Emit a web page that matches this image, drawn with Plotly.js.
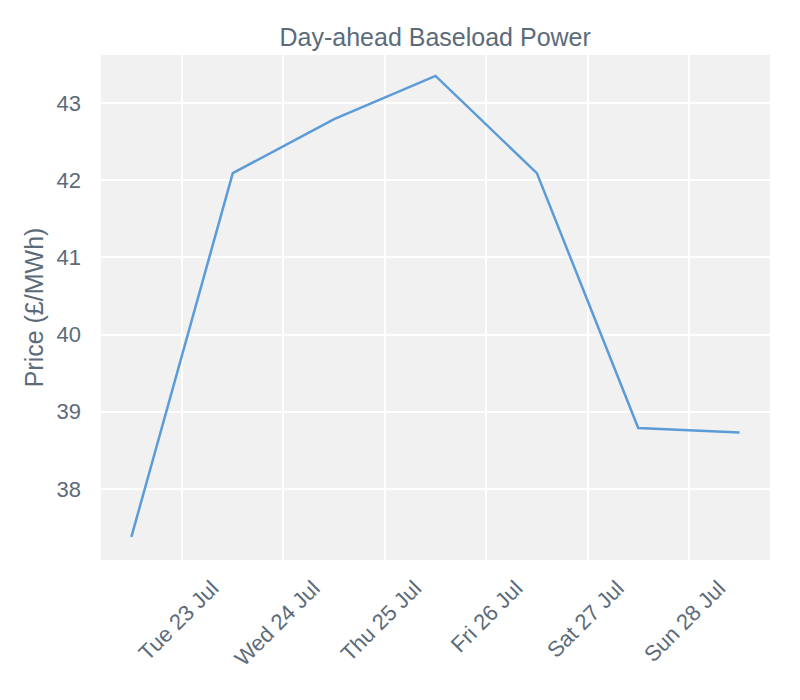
<!DOCTYPE html>
<html>
<head>
<meta charset="utf-8">
<script src="https://cdn.plot.ly/plotly-3.0.1.min.js"></script>
<style>html,body{margin:0;padding:0;background:#fff;}#chart{width:800px;height:700px;}</style>
</head>
<body>
<div id="chart"></div>
<script>
const dates = ['2024-07-22 12:00','2024-07-23 12:00','2024-07-24 12:00','2024-07-25 12:00','2024-07-26 12:00','2024-07-27 12:00','2024-07-28 12:00'];
const prices = [37.38, 42.09, 42.79, 43.35, 42.09, 38.79, 38.73];
const tickDates = ['2024-07-23','2024-07-24','2024-07-25','2024-07-26','2024-07-27','2024-07-28'];
const tickLabels = ['Tue 23 Jul','Wed 24 Jul','Thu 25 Jul','Fri 26 Jul','Sat 27 Jul','Sun 28 Jul'];
const textColor = '#5c6b79';
Plotly.newPlot('chart', [{
  x: dates, y: prices, type: 'scatter', mode: 'lines',
  line: {color: '#5b9bd8', width: 2.5}
}], {
  width: 800, height: 700,
  margin: {l: 101, r: 30, t: 55, b: 140},
  paper_bgcolor: '#ffffff', plot_bgcolor: '#f1f1f1',
  font: {family: 'Liberation Sans, Arial, sans-serif', color: textColor, size: 22},
  title: {text: 'Day-ahead Baseload Power', font: {size: 25, color: textColor}, x: 0.544, xanchor: 'center', y: 1 - 37/700, yanchor: 'middle', yref: 'container'},
  showlegend: false,
  xaxis: {
    type: 'date', range: ['2024-07-22 04:48','2024-07-28 19:12'],
    tickvals: tickDates, ticktext: tickLabels, tickangle: -45,
    showgrid: true, gridcolor: '#ffffff', gridwidth: 1.5, zeroline: false, showline: false,
    ticks: '', tickfont: {size: 22, color: textColor}, ticklabelstandoff: 10, ticklabelshift: 30
  },
  yaxis: {
    range: [37.08, 43.62], dtick: 1, tick0: 38,
    showgrid: true, gridcolor: '#ffffff', gridwidth: 1.5, zeroline: false, showline: false,
    ticks: '', tickfont: {size: 22, color: textColor}, ticklabelstandoff: 19,
    title: {text: 'Price (£/MWh)', font: {size: 25, color: textColor}, standoff: 5}
  }
}, {displayModeBar: false});
</script>
</body>
</html>
